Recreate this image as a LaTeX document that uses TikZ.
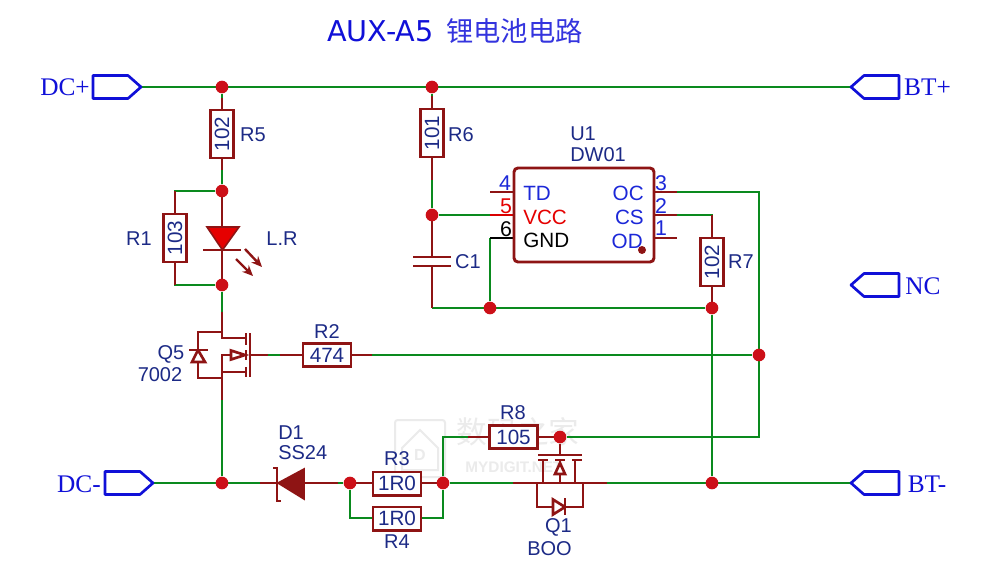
\documentclass[tikz,border=0pt]{standalone}
\usepackage{fontspec}
\setmainfont{Liberation Sans}
\newfontfamily\serifx{Liberation Serif}
\newfontfamily\titlef{DejaVu Sans}
\newfontfamily\cjkf{Noto Sans CJK SC}
\usetikzlibrary{arrows.meta}
\pgfdeclarelayer{wirelayer}
\pgfdeclarelayer{wmlayer}
\pgfsetlayers{wmlayer,wirelayer,main}
\definecolor{wgreen}{HTML}{0A8A1E}
\definecolor{cred}{HTML}{8E1414}
\definecolor{jred}{HTML}{CC1018}
\definecolor{navy}{HTML}{1C2A86}
\definecolor{pblue}{HTML}{1C28D8}
\definecolor{fblue}{HTML}{1010D8}
\definecolor{wm}{HTML}{EBEBEB}
\tikzset{
 x=.75pt,y=-.75pt,
 gw/.style={draw=wgreen,line width=2pt,line join=miter},
 rw/.style={draw=cred,line width=2pt,line join=miter},
 kw/.style={draw=black,line width=1.7pt},
 pinred/.style={draw=red!85!black,line width=2pt},
 dot/.style={circle,fill=jred,draw=none,minimum size=9.5pt,inner sep=0pt},
 res/.style={draw=cred,fill=white,line width=2pt,minimum width=36pt,minimum height=17.5pt,inner sep=0pt,text=navy,font=\fontsize{15.5}{15.5}\selectfont},
 lab/.style={inner sep=0pt,text=navy,font=\fontsize{15}{15}\selectfont},
 pinn/.style={inner sep=0pt,text=pblue,font=\fontsize{16}{16}\selectfont},
 pint/.style={inner sep=0pt,text=pblue,font=\fontsize{15.5}{15.5}\selectfont},
 flagtxt/.style={inner sep=0pt,text=fblue,font=\serifx\fontsize{19}{19}\selectfont},
 flagline/.style={draw=fblue,line width=2pt,line join=round,fill=white},
 fillpart/.style={draw=cred,fill=cred,line width=1.2pt,line join=miter},
 openpart/.style={draw=cred,fill=white,line width=2pt,line join=miter},
 led/.style={draw=cred,fill=red!90!black,line width=1.2pt,line join=miter},
 ray/.style={draw=cred,line width=1.8pt,-{Stealth[length=8pt,width=7pt,fill=red!70!black]}},
}
\newcommand{\flagright}[2]{\draw[flagline] (#1-48,#2-11.5) -- (#1-13,#2-11.5) -- (#1,#2) -- (#1-13,#2+11.5) -- (#1-48,#2+11.5) -- cycle;}
\newcommand{\flagleft}[2]{\draw[flagline] (#1+48,#2-11.5) -- (#1+13,#2-11.5) -- (#1,#2) -- (#1+13,#2+11.5) -- (#1+48,#2+11.5) -- cycle;}
\begin{document}
\begin{tikzpicture}
\useasboundingbox (0,0) rectangle (981,567);
\begin{pgfonlayer}{wmlayer}
\fill[white] (0,0) rectangle (981,567);
\draw[wm,line width=1.5pt,rounded corners=2pt] (395,420) rectangle (445,477);
\draw[wm,line width=1.5pt] (402,448) -- (420,430) -- (438,448) -- (438,470) -- (402,470) -- cycle;
\node[wm,inner sep=0pt,font=\bfseries\fontsize{12}{12}\selectfont] (wmd) at (420,455) {D};
\node[wm,inner sep=0pt,font=\cjkf\fontsize{23}{23}\selectfont] (wma) at (518,432) {数码之家};
\node[wm,inner sep=0pt,font=\bfseries\fontsize{11.5}{11.5}\selectfont] (wmb) at (514,467) {MYDIGIT.NET};
\end{pgfonlayer}
% title
\node[inner sep=0pt,text=fblue,anchor=west,font=\titlef\fontsize{21.5}{21.5}\selectfont] (title) at (327,31) {AUX-A5};
\node[inner sep=0pt,text=fblue!85!white,anchor=west,font=\cjkf\fontsize{20.5}{20.5}\selectfont] (titlecn) at (446,31) {锂电池电路};
% junctions
\node[dot] (j1) at (222,87) {};
\node[dot] (j2) at (432,87) {};
\node[dot] (j3) at (222,191) {};
\node[dot] (j4) at (222,285) {};
\node[dot] (j5) at (432,215) {};
\node[dot] (j6) at (490,308) {};
\node[dot] (j7) at (712,308) {};
\node[dot] (j8) at (759,355) {};
\node[dot] (j9) at (222,483) {};
\node[dot] (j10) at (350,483) {};
\node[dot] (j11) at (443,483) {};
\node[dot] (j12) at (712,483) {};
\node[dot] (j13) at (560,437) {};
\coordinate (dcp) at (141,87); \coordinate (btp) at (851,87);
\coordinate (dcm) at (153,483); \coordinate (btm) at (851,483);
\coordinate (gnd1) at (432,308);
\coordinate (oc) at (677,192); \coordinate (cs) at (677,215);
\coordinate (ocr) at (759,192);\coordinate (r8r) at (759,437);
\begin{pgfonlayer}{wirelayer}
% green wires
\draw[gw] (dcp) -- (btp);
\draw[gw] (dcm) -- (260,483);
\draw[gw] (j9) -- (222,400);
\draw[gw] (j3) -| (175,214);
\draw[gw] (j4) -| (175,262);
\draw[gw] (j4) -- (222,312);
\draw[gw] (j1) -- (222,110);
\draw[gw] (j3) -- (222,170);
\draw[gw] (j2) -- (432,108);
\draw[gw] (j5) -- (432,175);
\draw[gw] (j5) -- (490,215);
\draw[gw] (gnd1) -- (j7);
\draw[gw] (j6) -- (490,238);
\draw[gw] (cs) -- (712,215) -- (712,238);
\draw[gw] (j7) -- (j12);
\draw[gw] (oc) -- (ocr) -- (r8r) -- (j13);
\draw[gw] (250,355) -- (303,355);
\draw[gw] (351,355) -- (j8);
\draw[gw] (j10) -- (350,518) -- (373,518);
\draw[gw] (421,518) -- (443,518) -- (j11);
\draw[gw] (j11) -- (443,437) -- (490,437);
\draw[gw] (j11) -- (537,483);
\draw[gw] (583,483) -- (btm);
\draw[gw] (j10) -- (338,483);
% red stubs
\draw[rw] (222,98) -- (222,110);
\draw[rw] (222,157) -- (222,170);
\draw[rw] (222,191) -- (222,285);
\draw[rw] (175,191) -- (175,214);
\draw[rw] (175,262) -- (175,285);
\draw[rw] (432,96) -- (432,108);
\draw[rw] (432,157) -- (432,180);
\draw[rw] (432,215) -- (432,257);
\draw[rw] (432,266) -- (432,308);
\draw[rw] (250,355) -- (268,355);
\draw[rw] (280,355) -- (303,355);
\draw[rw] (351,355) -- (372,355);
\draw[rw] (712,215) -- (712,238);
\draw[rw] (712,286) -- (712,308);
\draw[rw] (654,192) -- (677,192);
\draw[rw] (654,215) -- (677,215);
\draw[rw] (654,238) -- (677,238);
\draw[rw] (490,192) -- (514,192);
\draw[pinred] (490,215) -- (514,215);
\draw[kw] (490,238) -- (514,238);
\draw[rw] (468,437) -- (490,437);
\draw[rw] (537,437) -- (560,437);
\draw[rw] (513,483) -- (537,483);
\draw[rw] (583,483) -- (607,483);
\draw[rw] (260,483) -- (277,483);
\draw[rw] (304,483) -- (338,483);
\draw[rw] (350,483) -- (373,483);
\draw[rw] (421,483) -- (443,483);
\end{pgfonlayer}
% resistors
\node[res,rotate=90] (r5) at (222,134) {102};
\node[res,rotate=90] (r6) at (432,133) {101};
\node[res,rotate=90] (r1) at (175,238) {103};
\node[res,rotate=90] (r7) at (712,262) {102};
\node[res] (r2) at (327,355) {474};
\node[res] (r3) at (397,483.5) {1R0};
\node[res] (r4) at (397,518.5) {1R0};
\node[res] (r8) at (513.5,437) {105};
% LED
\draw[led] (207,227) -- (239,227) -- (222.5,250) -- cycle;
\draw[rw] (203,250) -- (241,250);
\draw[ray] (245,249) -- (262,267);
\draw[ray] (236,259) -- (253,276);
% Q5
\draw[rw] (222,312) -- (222,338) -- (245,338);
\draw[rw] (222,332) -- (198,332) -- (198,350);
\draw[rw] (198,362) -- (198,378) -- (222,378);
\draw[rw] (222,400) -- (222,355) -- (231,355);
\draw[rw] (222,372) -- (245,372);
\draw[rw] (189,350) -- (208,350);
\draw[openpart] (198,350) -- (192,362) -- (205,362) -- cycle;
\draw[openpart] (245,355) -- (231,350.5) -- (231,359.5) -- cycle;
\draw[rw] (246,333) -- (246,345);
\draw[rw] (246,350) -- (246,360);
\draw[rw] (246,367) -- (246,377);
\draw[rw] (250,333) -- (250,377);
% caps
\draw[rw] (413,257) -- (451,257);
\draw[rw] (413,266) -- (451,266);
% U1
\node[draw=cred,fill=white,line width=2.2pt,rounded corners=3pt,minimum width=105pt,minimum height=70.5pt,inner sep=0pt] (u1) at (584,215) {};
\fill[cred] (642,250) circle (3pt);
\node[pint,anchor=west] (ta) at (523,193) {TD};
\node[pint,anchor=west,text=red!90!black] (tb) at (523,217) {VCC};
\node[pint,anchor=west,text=black] (tc) at (523,240) {GND};
\node[pint,anchor=east] (td) at (644,193) {OC};
\node[pint,anchor=east] (te) at (644,217) {CS};
\node[pint,anchor=east] (tf) at (643,241) {OD};
\node[pinn] (p4) at (505,183) {4};
\node[pinn,text=red!90!black] (p5) at (506,206) {5};
\node[pinn,text=black] (p6) at (506,229) {6};
\node[pinn] (p3) at (661,183) {3};
\node[pinn] (p2) at (661,206) {2};
\node[pinn] (p1) at (661,228) {1};
% D1
\draw[fillpart] (304,469) -- (304,499) -- (278,483) -- cycle;
\draw[rw,line width=1.6pt] (273,468) -- (277,468) -- (277,501) -- (281,501);
% Q1
\draw[rw] (537,483) -- (607,483);
\draw[rw] (537,483) -- (537,507) -- (583,507) -- (583,483);
\draw[openpart] (565,507) -- (553,499.5) -- (553,514.5) -- cycle;
\draw[rw] (565,498) -- (565,515);
\draw[rw] (543,483) -- (543,460);
\draw[rw] (575,483) -- (575,460);
\draw[rw] (538,460) -- (548,460);
\draw[rw] (555,460) -- (565,460);
\draw[rw] (572,460) -- (582,460);
\draw[rw] (538,455) -- (582,455);
\draw[rw] (j13) -- (560,455);
\draw[rw] (560,460) -- (560,483);
\draw[openpart] (560,463) -- (555,474) -- (565,474) -- cycle;
% flags
\flagright{141}{87}
\flagright{153}{483}
\flagleft{851}{87}
\flagleft{851}{285}
\flagleft{851}{483}
\node[flagtxt] (ldcp) at (65,87) {DC+};
\node[flagtxt] (ldcm) at (79,484) {DC-};
\node[flagtxt] (lbtp) at (927.5,87) {BT+};
\node[flagtxt] (lnc) at (923,286) {NC};
\node[flagtxt] (lbtm) at (927,484) {BT-};
% labels
\node[lab] (l1) at (253,135) {R5};
\node[lab] (l2) at (461,135) {R6};
\node[lab] (l3) at (139,239) {R1};
\node[lab] (l4) at (741,262) {R7};
\node[lab] (l5) at (468,262) {C1};
\node[lab] (l6) at (327,332) {R2};
\node[lab] (l7) at (397,459) {R3};
\node[lab] (l8) at (397,542) {R4};
\node[lab] (l9) at (513,413) {R8};
\node[lab] (l10) at (171,354) {Q5};
\node[lab] (l11) at (160,375) {7002};
\node[lab] (l12) at (282,239) {L.R};
\node[lab,anchor=west] (l13) at (570,134) {U1};
\node[lab,anchor=west] (l14) at (570,155) {DW01};
\node[lab,anchor=west] (l15) at (278,433) {D1};
\node[lab,anchor=west] (l16) at (278,453) {SS24};
\node[lab,anchor=east] (l17) at (572,527) {Q1};
\node[lab,anchor=east] (l18) at (572,549) {BOO};
\end{tikzpicture}
\end{document}
